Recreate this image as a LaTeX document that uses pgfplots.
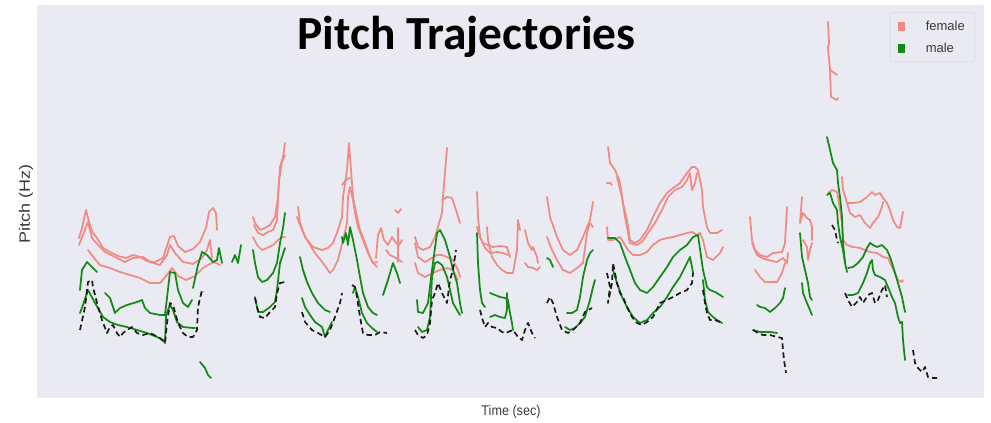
\documentclass[border=0pt]{standalone}
\usepackage{pgfplots}
\pgfplotsset{compat=1.18}
\usepackage{fontspec}
\setmainfont{Liberation Sans}
\newfontfamily\titlefont{Carlito}
\definecolor{bgc}{HTML}{EAEAF2}
\definecolor{fcol}{HTML}{F08A84}
\definecolor{mcol}{HTML}{128A14}
\definecolor{kcol}{HTML}{1A1A1A}
\definecolor{txt}{HTML}{3A3A3A}
\definecolor{lgb}{HTML}{D2D2DA}
\begin{document}
\begin{tikzpicture}
\useasboundingbox (0,0) rectangle (991pt,423pt);
\begin{axis}[
  at={(37pt,25pt)}, anchor=south west,
  scale only axis, width=947pt, height=393pt,
  xmin=37, xmax=984, ymin=5, ymax=398, y dir=reverse,
  axis background/.style={fill=bgc},
  axis line style={draw=none},
  xtick=\empty, ytick=\empty,
  clip=true,
  fem/.style={color=fcol, line width=1.75pt, line join=round, line cap=round, forget plot},
  mal/.style={color=mcol, line width=1.75pt, line join=round, line cap=round, forget plot},
  blk/.style={color=kcol, line width=1.7pt, dash pattern=on 5.5pt off 3.5pt, line join=round, forget plot},
  legend style={at={(rel axis cs:0.9905,0.982)}, anchor=north east,
    draw=lgb, fill=bgc, rounded corners=2.5pt, font=\fontsize{13}{14}\selectfont\color{txt},
    inner xsep=8pt, inner ysep=6.5pt, row sep=7pt,
    /tikz/every odd column/.append style={column sep=19pt}},
  legend cell align=left,
]
\addlegendimage{legend image code/.code={\fill[fcol, sharp corners] (0pt,-4pt) rectangle (6.5pt,4pt);}}
\addlegendentry{female}
\addlegendimage{legend image code/.code={\fill[mcol, sharp corners] (0pt,-4pt) rectangle (6.5pt,4pt);}}
\addlegendentry{male}

% ---------------- female ----------------
\addplot[fem] coordinates {(79,238)(82,228)(86,210)(89,222)(93,233)(97,238)(103,248)(110,252)(118,256)(126,258)(133,255)(140,257)(147,261)(155,262)(163,258)(170,237)(174,236)(178,246)(185,252)(193,249)(200,242)(206,228)(209,212)(213,208)(216,213)(217,230)};
\addplot[fem] coordinates {(79,245)(84,232)(88,222)(92,238)(98,245)(105,252)(115,257)(125,262)(133,258)(143,257)(150,262)(160,265)(167,255)(170,245)(175,253)(183,262)(193,264)(202,258)(207,250)(210,240)(212,258)};
\addplot[fem] coordinates {(88,250)(94,258)(100,265)(110,268)(120,272)(130,275)(140,278)(150,283)(160,283)(167,275)(172,268)(178,276)(186,280)(195,276)(203,268)(208,265)(214,262)(220,265)};
\addplot[fem] coordinates {(253,217)(255,223)(260,230)(265,228)(270,225)(275,217)(278,197)(280,167)(283,157)(285,143)};
\addplot[fem] coordinates {(254,225)(258,233)(263,235)(268,232)(273,230)(277,220)(279,180)(282,162)(285,155)};
\addplot[fem] coordinates {(253,237)(257,245)(262,250)(267,248)(273,245)(278,240)(282,237)(285,237)};
\addplot[fem] coordinates {(298,207)(300,223)(305,237)(313,247)(322,250)(328,248)(333,243)(338,230)(342,217)(343,197)(347,170)(349,143)(351,170)(353,197)(357,217)(360,230)(365,243)(370,257)(373,263)(377,262)};
\addplot[fem] coordinates {(297,217)(302,230)(307,240)(315,253)(323,263)(330,273)(333,270)(338,260)(343,240)(347,223)(348,197)(350,187)(353,200)(355,213)(358,227)(363,240)(368,253)(373,263)(377,267)};
\addplot[fem] coordinates {(342,185)(346,180)(350,178)};
\addplot[fem] coordinates {(376,258)(378,235)(381,228)(384,240)(388,245)(392,237)(396,243)(399,245)(402,240)};
\addplot[fem] coordinates {(386,250)(390,255)(396,258)(402,262)};
\addplot[fem] coordinates {(398,228)(398,262)};
\addplot[fem] coordinates {(395,210)(398,213)(401,209)};
\addplot[fem] coordinates {(415,237)(418,247)(423,250)(430,247)(435,237)(438,227)(442,213)(443,197)(447,148)};
\addplot[fem] coordinates {(442,200)(447,197)(452,198)(455,207)(460,223)};
\addplot[fem] coordinates {(415,243)(418,257)(425,262)(432,258)(437,255)(442,255)(447,257)(453,260)(458,270)(460,277)};
\addplot[fem] coordinates {(415,263)(418,273)(425,277)(433,273)(440,270)(447,268)(453,270)(458,280)};
\addplot[fem] coordinates {(477,192)(478,217)(480,237)(483,243)(488,245)(493,247)(500,246)(507,247)(510,257)};
\addplot[fem] coordinates {(477,227)(480,237)(485,248)(490,253)(497,252)(503,253)(508,255)};
\addplot[fem] coordinates {(487,227)(488,240)(492,257)(497,265)(502,270)(507,273)(513,273)(517,250)(518,220)(520,230)};
\addplot[fem] coordinates {(525,230)(528,243)(532,250)(533,247)(537,257)(538,263)};
\addplot[fem] coordinates {(525,263)(528,267)(533,268)(537,270)(540,267)};
\addplot[fem] coordinates {(547,197)(550,217)(557,237)(563,250)(570,255)(577,250)(583,237)(590,220)(593,202)};
\addplot[fem] coordinates {(547,237)(552,250)(557,260)(563,270)(570,273)(577,268)(583,263)(587,233)(590,223)(593,227)};
\addplot[fem] coordinates {(608,147)(610,163)(615,170)(618,177)(620,183)(623,203)(627,220)(630,240)(635,243)(640,240)(647,230)(653,217)(660,203)(667,193)(673,188)(680,183)(687,173)(692,167)(695,167)(698,170)(702,190)(703,207)(707,227)(710,233)(717,233)(722,230)};
\addplot[fem] coordinates {(617,177)(622,197)(625,217)(630,243)(637,245)(642,242)(648,233)(655,223)(662,210)(668,197)(675,190)(682,187)(687,180)(690,173)(692,190)(695,183)(697,173)};
\addplot[fem] coordinates {(607,227)(608,240)(613,240)(620,237)(625,245)(628,250)(633,255)(640,255)(647,252)(653,245)(660,240)(667,238)(673,237)(680,235)(687,233)(692,232)(697,235)(700,233)(703,240)(707,257)(713,260)(720,253)(723,247)};
\addplot[fem] coordinates {(607,183)(610,183)(612,185)};
\addplot[fem] coordinates {(750,217)(752,240)(755,250)(760,255)(767,257)(773,253)(782,252)(785,243)(787,207)};
\addplot[fem] coordinates {(752,243)(757,255)(762,258)(768,260)(777,262)(783,258)(787,263)(788,253)};
\addplot[fem] coordinates {(755,270)(760,277)(765,282)(772,282)(777,282)(782,273)(785,263)};
\addplot[fem] coordinates {(802,197)(800,223)(803,213)(807,218)(810,220)(812,227)(812,240)};
\addplot[fem] coordinates {(803,240)(807,247)(808,260)(810,250)(812,243)};
\addplot[fem] coordinates {(828,22)(829,43)(828,48)(830,70)(831,97)(833,98)(837,100)(838,98)};
\addplot[fem] coordinates {(830,70)(833,72)(837,75)};
\addplot[fem] coordinates {(828,193)(832,190)(837,192)(838,197)(840,210)(842,223)(843,240)(847,245)(853,247)(860,248)(865,250)(870,252)(877,253)(883,257)(888,258)(892,267)(895,273)(898,280)(902,282)(903,280)};
\addplot[fem] coordinates {(842,177)(843,190)(847,203)(853,203)(860,202)(867,197)(872,192)(875,195)(880,193)(883,198)(887,203)(890,210)(893,220)(897,227)(900,228)(903,212)};
\addplot[fem] coordinates {(847,203)(850,213)(855,217)(860,215)(865,223)(870,228)(873,223)(878,217)(882,207)(883,202)};

% ---------------- male ----------------
\addplot[mal] coordinates {(80,290)(82,270)(87,262)(90,265)(93,268)(97,272)};
\addplot[mal] coordinates {(105,293)(110,298)(115,313)(120,308)(127,305)(137,302)(142,300)(145,308)(150,313)(160,315)(165,315)(170,272)(175,273)(178,290)(183,303)(188,307)(192,300)};
\addplot[mal] coordinates {(80,313)(83,305)(88,290)(95,303)(103,317)(110,322)(118,325)(127,327)(137,330)(147,333)(157,337)(163,340)(165,343)(166,315)(170,305)(173,310)(177,322)(183,327)(193,328)(195,328)};
\addplot[mal] coordinates {(193,288)(198,265)(202,252)(207,255)(213,262)(217,260)(219,248)(222,263)};
\addplot[mal] coordinates {(232,262)(235,255)(238,263)(241,245)};
\addplot[mal] coordinates {(200,362)(205,368)(208,375)(211,378)};
\addplot[mal] coordinates {(253,250)(255,263)(258,277)(262,282)(267,280)(273,273)(277,263)(280,243)(283,228)(285,213)};
\addplot[mal] coordinates {(255,297)(258,312)(263,312)(270,307)(275,302)(277,290)(280,263)(282,257)(285,248)};
\addplot[mal] coordinates {(300,257)(303,270)(307,282)(312,293)(318,303)(325,310)(330,312)};
\addplot[mal] coordinates {(302,298)(305,307)(310,315)(315,322)(322,327)(325,337)(328,330)(332,322)};
\addplot[mal] coordinates {(342,237)(343,243)(346,233)(348,245)(350,227)(353,240)(357,260)(360,277)(363,293)(368,307)(373,313)(377,315)};
\addplot[mal] coordinates {(353,293)(355,287)(358,297)(362,313)(367,323)(372,328)(377,332)};
\addplot[mal] coordinates {(383,295)(388,280)(393,263)(397,273)(400,283)};
\addplot[mal] coordinates {(417,300)(418,312)(423,313)(428,303)(432,270)(437,233)(440,230)(445,240)(450,257)(453,270)(457,283)(460,303)(462,313)};
\addplot[mal] coordinates {(418,327)(422,332)(427,330)(430,317)(432,277)(435,263)(438,262)(442,265)(447,277)(450,290)(453,303)(457,310)(460,315)};
\addplot[mal] coordinates {(477,233)(478,263)(480,290)(482,303)(485,307)};
\addplot[mal] coordinates {(490,293)(495,295)(500,297)(505,298)(508,300)(510,313)(512,323)(513,330)};
\addplot[mal] coordinates {(490,317)(495,315)(500,317)(505,318)(507,310)(507,293)};
\addplot[mal] coordinates {(547,258)(550,260)(553,267)};
\addplot[mal] coordinates {(567,313)(572,313)(577,310)(580,297)(583,277)(587,260)(590,253)(593,250)};
\addplot[mal] coordinates {(565,327)(570,330)(575,328)(580,323)(585,317)(590,300)(593,287)(595,280)};
\addplot[mal] coordinates {(608,238)(615,238)(620,243)(625,257)(630,270)(635,283)(640,290)(647,293)(653,287)(660,277)(667,267)(673,257)(680,250)(687,245)(693,237)(698,235)(703,270)(707,287)(710,290)(715,292)(720,295)(723,297)};
\addplot[mal] coordinates {(613,270)(617,283)(622,297)(627,307)(633,317)(640,323)(647,320)(653,313)(660,307)(667,297)(673,287)(680,277)(687,263)(690,257)(692,267)(693,273)};
\addplot[mal] coordinates {(703,280)(705,300)(708,312)(713,317)(717,320)(722,323)};
\addplot[mal] coordinates {(757,305)(760,307)(765,308)(770,312)(775,308)(780,303)(783,298)(785,288)};
\addplot[mal] coordinates {(753,330)(760,332)(770,332)(777,333)};
\addplot[mal] coordinates {(800,233)(802,257)(805,270)(808,283)(810,297)(812,300)};
\addplot[mal] coordinates {(802,283)(803,293)(807,303)(810,310)(812,315)};
\addplot[mal] coordinates {(827,137)(830,150)(833,163)(837,170)(838,183)(840,197)(842,217)(843,243)(845,263)(847,272)};
\addplot[mal] coordinates {(827,195)(830,193)(833,203)(837,210)(838,223)(840,237)(843,250)(845,262)};
\addplot[mal] coordinates {(848,268)(853,267)(858,263)(863,257)(867,248)(870,243)(873,245)(877,247)(882,245)(887,250)(890,257)(892,263)(895,273)(898,283)(902,297)(905,312)};
\addplot[mal] coordinates {(848,295)(853,295)(858,293)(863,283)(867,273)(870,263)(872,260)(873,270)(875,275)(880,277)(885,280)(888,287)(892,297)(895,303)(898,317)(900,323)(902,322)(903,340)(905,360)};

% ---------------- black dashed ----------------
\addplot[blk] coordinates {(80,330)(85,307)(88,282)(92,280)(93,287)(97,303)(102,320)(107,333)(110,327)(113,325)(117,333)(120,337)(123,333)(127,330)(132,327)(137,333)(143,335)(150,333)(160,338)(165,343)(167,323)(170,303)(173,305)(178,323)(183,333)(188,337)(193,337)(197,330)(198,307)(202,290)(203,292)};
\addplot[blk] coordinates {(255,298)(257,307)(260,317)(265,318)(270,312)(275,307)(277,293)(280,283)(285,282)};
\addplot[blk] coordinates {(302,312)(305,322)(312,330)(318,333)(325,337)(330,330)(335,317)(340,303)(342,293)};
\addplot[blk] coordinates {(352,285)(355,287)(357,297)(360,317)(363,333)(368,335)(375,335)(380,332)(387,333)};
\addplot[blk] coordinates {(415,330)(418,335)(423,338)(427,335)(430,323)(432,300)(435,293)(438,283)(442,293)(447,303)(450,280)(453,270)(456,250)};
\addplot[blk] coordinates {(480,310)(482,318)(485,327)(488,323)(492,327)(497,328)(502,332)(505,333)(508,332)(513,330)(518,337)(522,340)(525,330)(528,323)(532,333)(535,338)};
\addplot[blk] coordinates {(547,303)(550,297)(553,303)(557,317)(562,330)(568,333)(573,330)(580,323)(585,312)(592,308)};
\addplot[blk] coordinates {(607,273)(610,287)(608,303)(612,283)(613,263)(617,283)(620,293)(623,297)(627,307)(632,317)(637,323)(642,325)(647,322)(653,317)(660,303)(667,300)(673,297)(680,293)(687,290)(692,283)(693,273)};
\addplot[blk] coordinates {(703,290)(705,303)(707,313)(710,320)(715,320)(720,322)};
\addplot[blk] coordinates {(753,330)(758,333)(763,335)(770,335)(777,337)(782,338)(783,350)(784,360)(786,373)};
\addplot[blk] coordinates {(845,293)(848,300)(852,307)(857,302)(860,297)(863,303)(868,295)(872,293)(875,303)(878,300)(882,290)(885,285)(887,297)};
\addplot[blk] coordinates {(832,225)(835,230)(837,240)(838,243)};
\addplot[blk] coordinates {(913,350)(915,363)(918,368)(922,372)(925,367)(928,377)(933,378)(937,378)};
\end{axis}
\node[anchor=base, inner sep=0pt] at (466.5pt,373pt) {\titlefont\bfseries\fontsize{47.5}{47.5}\selectfont Pitch Trajectories};
\node[anchor=base, inner sep=0pt, text=txt] at (511pt,7pt) {\scalebox{0.9}[1]{\fontsize{14}{14}\selectfont Time (sec)}};
\node[rotate=90, anchor=center, inner sep=0pt, text=txt] at (26pt,219pt) {\scalebox{1.2}[1]{\fontsize{15}{15}\selectfont Pitch (Hz)}};
\end{tikzpicture}
\end{document}
